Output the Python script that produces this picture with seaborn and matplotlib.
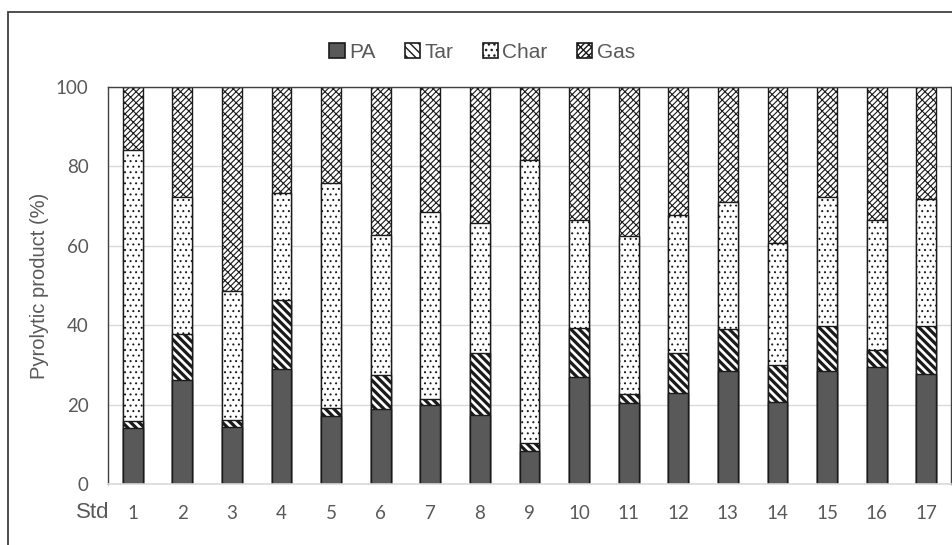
import matplotlib
matplotlib.use("Agg")
import matplotlib.pyplot as plt
from matplotlib.patches import Patch, Rectangle
import seaborn as sns
import pandas as pd

# Pyrolytic product distribution (%) for each standard run
std = [str(i) for i in range(1, 18)]
pa = [14.0, 26.2, 14.3, 28.9, 17.1, 19.0, 19.9, 17.4, 8.4, 26.9, 20.5, 23.0, 28.5, 20.7, 28.4, 29.4, 27.6]
tar = [1.9, 11.7, 1.8, 17.4, 2.1, 8.4, 1.4, 15.7, 2.0, 12.3, 2.1, 9.9, 10.5, 9.3, 11.4, 4.3, 12.2]
char = [68.3, 34.3, 32.5, 26.9, 56.6, 35.4, 47.1, 32.7, 71.3, 27.2, 39.8, 34.8, 32.1, 30.8, 32.4, 32.7, 31.9]
gas = [15.8, 27.8, 51.4, 26.8, 24.2, 37.2, 31.6, 34.2, 18.3, 33.6, 37.6, 32.3, 28.9, 39.2, 27.8, 33.6, 28.3]
series = ["PA", "Tar", "Char", "Gas"]

df = pd.DataFrame({"Std": std, "PA": pa, "Tar": tar, "Char": char, "Gas": gas})
df["c_PA"] = df["PA"]
df["c_Tar"] = df["c_PA"] + df["Tar"]
df["c_Char"] = df["c_Tar"] + df["Char"]
df["c_Gas"] = df["c_Char"] + df["Gas"]

sns.set_theme(style="white")
plt.rcParams["font.family"] = ["Liberation Sans", "DejaVu Sans"]

styles = {
    "PA":   dict(face="#595959", edge="#1a1a1a", hatch=None, hlw=1.0),
    "Tar":  dict(face="white", edge="#111111", hatch="\\" * 4, hlw=2.3),
    "Char": dict(face="white", edge="#444444", hatch="...", hlw=0.7),
    "Gas":  dict(face="white", edge="#3c3c3c", hatch="/" * 6 + "\\" * 3, hlw=0.8),
}

fig = plt.figure(figsize=(9.53, 5.45), dpi=100)
ax = fig.add_axes([108 / 953, 1 - 484 / 545, (951 - 108) / 953, (484 - 87) / 545])

# stacked bars drawn as overlapping cumulative layers, topmost first
for name in ["Gas", "Char", "Tar", "PA"]:
    st = styles[name]
    n_before = len(ax.patches)
    with plt.rc_context({"hatch.linewidth": st["hlw"]}):
        sns.barplot(data=df, x="Std", y="c_" + name, order=std, width=0.4,
                    color=st["face"], edgecolor=st["edge"], linewidth=1.0,
                    saturation=1, ax=ax)
        for p in ax.patches[n_before:]:
            p.set_facecolor(st["face"])
            p.set_edgecolor("#1a1a1a" if name != "PA" else st["edge"])
            if st["hatch"]:
                p.set_hatch(st["hatch"])
                if hasattr(p, "set_hatchcolor"):
                    p.set_hatchcolor(st["edge"])
                if hasattr(p, "set_hatch_linewidth"):
                    p.set_hatch_linewidth(st["hlw"])

ax.set_ylim(0, 100)
ax.set_yticks([0, 20, 40, 60, 80, 100])
ax.set_xlim(-0.5, 16.5)
ax.yaxis.grid(True, color="#d9d9d9", linewidth=1.0)
ax.set_axisbelow(True)
ax.tick_params(axis="both", length=0, colors="#595959", labelsize=13.5)
ax.tick_params(axis="y", pad=14)
ax.tick_params(axis="x", pad=15)
for lab in ax.get_xticklabels() + ax.get_yticklabels():
    lab.set_fontfamily(["Lato", "DejaVu Sans"])
ax.set_xlabel("")
ax.set_ylabel("Pyrolytic product (%)", fontsize=14.5, color="#595959", labelpad=5)

for side in ["left", "top", "right"]:
    ax.spines[side].set_color("#404040")
    ax.spines[side].set_linewidth(1.0)
ax.spines["bottom"].set_color("#d9d9d9")
ax.spines["bottom"].set_linewidth(1.2)

fig.text(93 / 953, 1 - 513 / 545, "Std", fontsize=16, color="#595959",
         ha="center", va="center")

handles = []
for s in series:
    st = styles[s]
    h = Patch(facecolor=st["face"], edgecolor="#1a1a1a", hatch=st["hatch"], linewidth=1.2)
    handles.append(h)
leg = fig.legend(handles, series, loc="center", bbox_to_anchor=(482 / 953, 1 - 52 / 545),
                 ncol=4, frameon=False, fontsize=15, handlelength=0.75, handleheight=0.75,
                 handletextpad=0.2, columnspacing=1.4)
for t in leg.get_texts():
    t.set_color("#595959")

# outer chart frame
fig.patches.append(Rectangle((8 / 953, -0.1), 1.2, 1 - 12 / 545 + 0.1,
                             transform=fig.transFigure, fill=False,
                             edgecolor="#404040", linewidth=1.3))

fig.savefig("out.png", dpi=100, facecolor="white")
